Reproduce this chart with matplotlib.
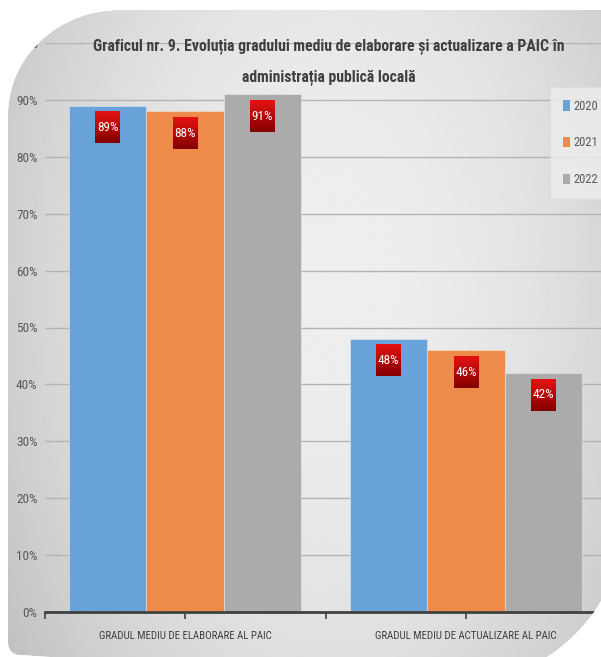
import numpy as np
import matplotlib
matplotlib.use("Agg")
import matplotlib.pyplot as plt
from matplotlib import font_manager
from matplotlib.path import Path
from matplotlib.patches import PathPatch, Patch

# Data
categories = ["GRADUL MEDIU DE ELABORARE AL PAIC", "GRADUL MEDIU DE ACTUALIZARE AL PAIC"]
years = ["2020", "2021", "2022"]
values_2020 = [0.89, 0.48]
values_2021 = [0.88, 0.46]
values_2022 = [0.91, 0.42]
series = [values_2020, values_2021, values_2022]
colors = ["#69a2d9", "#ee8b4a", "#ababab"]
title = ("Graficul nr. 9. Evoluția gradului mediu de elaborare și actualizare a PAIC în\n"
         "administrația publică locală")

# pick a narrow-ish family if one is around
installed = {f.name for f in font_manager.fontManager.ttflist}
main_font = next((f for f in ["Roboto Condensed", "Liberation Sans Narrow", "Lato",
                              "Liberation Sans"] if f in installed), "DejaVu Sans")
plt.rcParams["font.family"] = [main_font, "DejaVu Sans"]

W, H = 601, 657
fig = plt.figure(figsize=(W / 100, H / 100), dpi=100)
fig.patch.set_facecolor("white")

# background panel, pixel coordinates (y down)
bg = fig.add_axes([0, 0, 1, 1], zorder=-2)
bg.set_xlim(0, W)
bg.set_ylim(H, 0)
bg.axis("off")

k = 0.5523
R = 170
cx, cy = 455, 514
verts = [
    (8, 115), (8, 115 - 105 * k), (120 - 112 * k, 10), (120, 10),
    (cx + R, 10),
    (cx + R, cy),
    (cx + R, cy + R * k), (cx + R * k, cy + R), (cx, cy + R),
    (20, 655),
    (8, 655), (8, 643), (8, 643),
    (8, 115),
]
codes = [Path.MOVETO, Path.CURVE4, Path.CURVE4, Path.CURVE4,
         Path.LINETO, Path.LINETO,
         Path.CURVE4, Path.CURVE4, Path.CURVE4,
         Path.LINETO,
         Path.CURVE4, Path.CURVE4, Path.CURVE4,
         Path.CLOSEPOLY]
panel_path = Path(verts, codes)
panel = PathPatch(panel_path, facecolor="none", edgecolor="none")
bg.add_patch(panel)

gx, gy = np.meshgrid(np.linspace(0, W, 300), np.linspace(0, H, 330))
shade = 0.935 - 0.12 * ((gx - 330) / 320) ** 2 - 0.06 * ((gy - 280) / 380) ** 2
img = bg.imshow(shade, cmap="gray", vmin=0, vmax=1, extent=(0, W, H, 0),
                aspect="auto", interpolation="bilinear")
img.set_clip_path(panel)

# main chart
x0, x1 = 44.5, 606.5
ytop, ybot = 43, 612
ax = fig.add_axes([x0 / W, (H - ybot) / H, (x1 - x0) / W, (ybot - ytop) / H])
ax.patch.set_visible(False)

x = np.arange(len(categories))
width = 0.275
grad = np.linspace(0, 1, 30).reshape(-1, 1)
red = np.dstack([0.9 - 0.38 * grad, 0.07 * (1 - grad), 0.07 * (1 - grad)])
for i, (vals, col, yr) in enumerate(zip(series, colors, years)):
    pos = x + (i - 1) * width
    ax.bar(pos, vals, width, color=col, edgecolor=(1, 1, 1, 0.35),
           linewidth=0.8, zorder=2, label=yr)
    for px, v in zip(pos, vals):
        bw = 0.088
        ax.imshow(red, extent=(px - bw / 2, px + bw / 2, v - 0.066, v - 0.011),
                  aspect="auto", zorder=3, interpolation="bilinear")
        ax.text(px, v - 0.0385, f"{v * 100:.0f}%", ha="center", va="center",
                color="white", fontsize=9.5, zorder=4)

ax.set_xlim(-0.5, 1.5)
ax.set_ylim(0, 1.0)

ax.set_yticks(np.arange(0, 1.01, 0.1))
ax.set_yticklabels([f"{t}%" for t in range(0, 101, 10)])
ax.tick_params(axis="y", length=0, labelsize=9.5, labelcolor="#595959", pad=5)
ax.grid(axis="y", color="#b4b4b4", linewidth=1, zorder=0)
ax.set_axisbelow(True)

ax.set_xticks([-0.5, 0, 0.5, 1, 1.5])
ax.set_xticklabels(["", categories[0], "", categories[1], ""])
ax.tick_params(axis="x", direction="out", length=5, width=1.2, color="#404040",
               labelsize=7.8, labelcolor="#404040", pad=9)
for s in ["top", "right", "left"]:
    ax.spines[s].set_visible(False)
ax.spines["bottom"].set_color("#404040")
ax.spines["bottom"].set_linewidth(2)
ax.spines["bottom"].set_zorder(5)

handles = [Patch(facecolor=c, edgecolor="none") for c in colors]
leg = fig.legend(handles, years, loc="upper left",
                 bbox_to_anchor=(554 / W, 1 - 91 / H), frameon=True,
                 fontsize=9, labelspacing=1.9, handlelength=0.55,
                 handleheight=0.9, handletextpad=0.3, borderpad=0.7,
                 borderaxespad=0)
leg.get_frame().set_facecolor("#eeeeee")
leg.get_frame().set_edgecolor("#dedede")
leg.get_frame().set_boxstyle("square")
for t in leg.get_texts():
    t.set_color("#595959")

fig.text(329 / W, 1 - 61.5 / H, title, ha="center", va="center", fontsize=11.3,
         fontweight="bold", color="#404040", linespacing=2.2)

# white surround outside the rounded panel, drawn on top of everything
mask_ax = fig.add_axes([0, 0, 1, 1], zorder=20)
mask_ax.set_xlim(0, W)
mask_ax.set_ylim(H, 0)
mask_ax.axis("off")
outer = Path([(-5, -5), (-5, H + 5), (W + 5, H + 5), (W + 5, -5), (-5, -5)],
             [Path.MOVETO, Path.LINETO, Path.LINETO, Path.LINETO, Path.CLOSEPOLY])
mask_ax.add_patch(PathPatch(Path.make_compound_path(outer, panel_path),
                            facecolor="white", edgecolor="none"))

fig.savefig("out.png", dpi=100)
